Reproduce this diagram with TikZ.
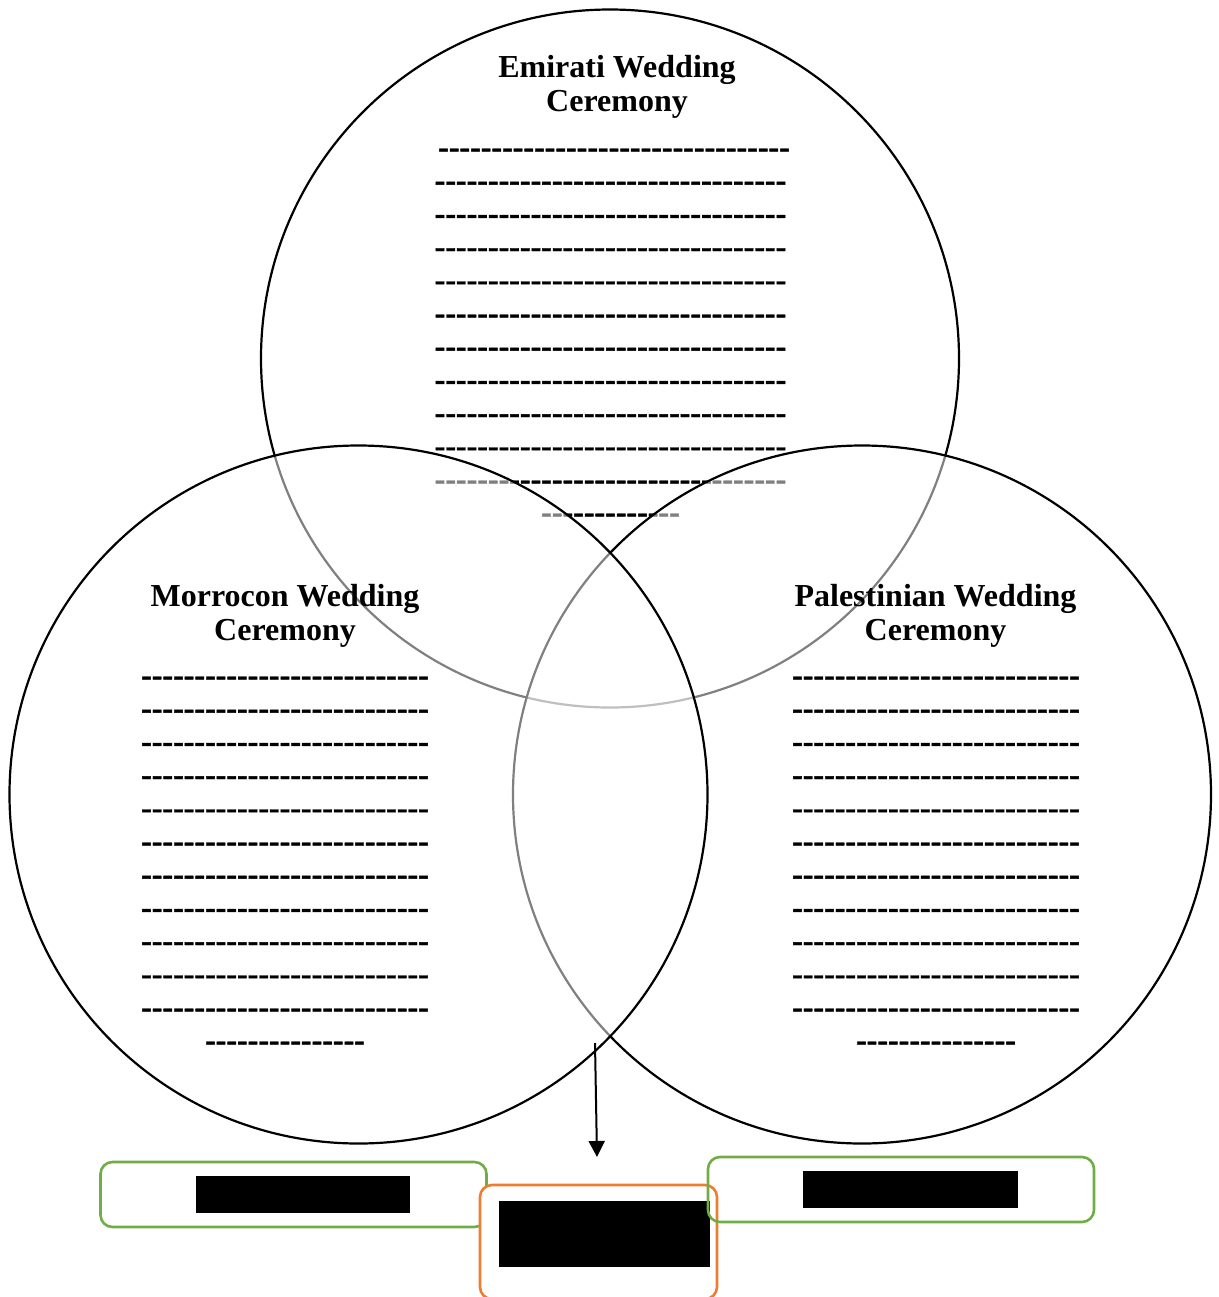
\documentclass[tikz,border=0pt]{standalone}
\usepackage{fontspec}
\setmainfont{Liberation Serif}
\newfontfamily\dashfont{Liberation Serif}[Ligatures=TeXOff,BoldFeatures={FakeBold=1.2}]
\usetikzlibrary{arrows.meta}

\definecolor{tagGreen}{HTML}{70AD47}
\definecolor{tagOrange}{HTML}{ED7D31}

% a row of blank hyphens to write on
\newcommand{\blankrow}[1]{\dashfont\bfseries\foreach \k in {1,...,#1}{-}}

\begin{document}
\begin{tikzpicture}[x=0.5pt,y=-0.5pt,
	ring/.style={shape=circle,draw=black,line width=1.1pt,fill=white,fill opacity=0.5,
		minimum size=349pt,inner sep=0pt,outer sep=0pt},
	heading/.style={font=\fontsize{16}{17}\selectfont\bfseries,align=center,anchor=north,inner sep=0pt},
	blank/.style={font=\fontsize{16}{17}\selectfont,anchor=mid,inner sep=0pt,yshift=-2.5pt},
	tag/.style={draw=tagGreen,line width=1.3pt,rounded corners=6pt,minimum width=193pt,
		minimum height=32.5pt,inner sep=0pt},
	hidden/.style={fill=black,inner sep=0pt}]
	
	\useasboundingbox (0,0) rectangle (1219,1297);
	
	\node[ring] (emirati) at (610, 358.5) {};
	\node[heading] (emiratiTitle) at (617, 55) {Emirati Wedding\\Ceremony};
	\node[blank] (e0) at (614, 148) {\blankrow{33}};
	\foreach \i in {1,...,10}
		\node[blank] (e\i) at (610.5, 148+33.2*\i) {\blankrow{33}};
	\node[blank] (e11) at (610.5, 513) {\blankrow{13}};
	
	\node[ring] (palestinian) at (862, 794.5) {};
	\node[heading] (palestinianTitle) at (935.5, 584) {Palestinian Wedding\\Ceremony};
	\foreach \i in {0,...,10}
		\node[blank] (p\i) at (936, 676+33.2*\i) {\blankrow{27}};
	\node[blank] (p11) at (936, 1041) {\blankrow{15}};
	
	\node[ring] (moroccan) at (358.5, 794.5) {};
	\node[heading] (moroccanTitle) at (285, 584) {Morrocon Wedding\\Ceremony};
	\foreach \i in {0,...,10}
		\node[blank] (m\i) at (285, 676+33.2*\i) {\blankrow{27}};
	\node[blank] (m11) at (285, 1041) {\blankrow{15}};
	
	\coordinate (from) at (595, 1043);
	\coordinate (to) at (597, 1157);
	\draw[line width=1pt,-{Triangle[length=8pt,width=8pt]}] (from) -- (to);
	
	\node[tag] (leftTag) at (293.5, 1194.5) {};
	\node[hidden,minimum width=107pt,minimum height=18.5pt] (leftName) at (303, 1194.5) {};
	
	\node[tag,draw=tagOrange,fill=white,minimum width=118.5pt,minimum height=57pt] (midTag) at (598.5, 1242) {};
	\node[hidden,minimum width=105.5pt,minimum height=33pt] (midName) at (604.5, 1234) {};
	
	\node[tag] (rightTag) at (901, 1189.5) {};
	\node[hidden,minimum width=107.5pt,minimum height=18.5pt] (rightName) at (910.5, 1189.5) {};
	
\end{tikzpicture}
\end{document}
